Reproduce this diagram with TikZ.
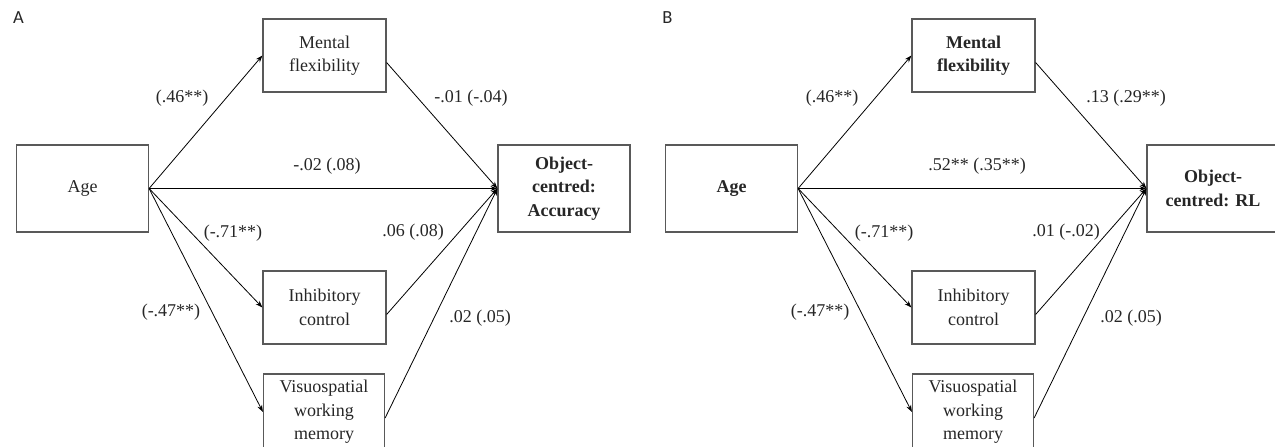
\documentclass[tikz,border=0pt]{standalone}
\usepackage{fontspec}
\setmainfont{Liberation Serif}
\newfontfamily\panelfont{Carlito}
\usetikzlibrary{arrows.meta,calc,positioning}

\begin{document}
\begin{tikzpicture}[x=1pt,y=-1pt,>={Stealth[length=7pt,width=5pt]},
    box/.style={draw=black!65,line width=1.2pt,minimum width=123pt,minimum height=73pt,
                align=center,inner sep=0pt,text=black!85,font=\fontsize{18}{23.5}\selectfont},
    bigbox/.style={box,minimum width=132pt,minimum height=87pt},
    lbl/.style={inner sep=0pt,text=black!85,font=\fontsize{18}{22}\selectfont},
    letter/.style={inner sep=0pt,text=black!85,font=\fontsize{18.5}{20}\panelfont},
    link/.style={->,line width=0.8pt,black}]

    \useasboundingbox (0,0) rectangle (1275,447);
    \clip (0,0) rectangle (1275,447);

%   panel A
    \node[letter] (letA) at (18.5,18) {A};
    \node[bigbox] (ageA) at (82.5,188.5) {Age};
    \node[box] (mfA) at (324.5,55.5) {Mental\\flexibility};
    \node[box] (icA) at (324.5,307.5) {Inhibitory\\control};
    \node[box,minimum width=121pt,minimum height=76pt] (wmA) at (324,412) {Visuospatial\\working\\memory};
    \node[bigbox] (outA) at (564,188.5) {\textbf{Object-}\\\textbf{centred:}\\\textbf{Accuracy}};

    \draw[link] (ageA.east) -- (mfA.west);
    \draw[link] (ageA.east) -- (icA.west);
    \draw[link] (ageA.east) -- (wmA.west);
    \draw[link] (ageA.east) -- (outA.west);
    \draw[link] ($(mfA.east)+(0,7)$) -- (outA.west);
    \draw[link] ($(icA.east)+(0,7)$) -- (outA.west);
    \draw[link] ($(wmA.east)+(0,6)$) -- (outA.west);

    \node[lbl] (a1) at (182,98) {(.46**)};
    \node[lbl] (a2) at (471,98) {-.01 (-.04)};
    \node[lbl] (a3) at (327,166) {-.02 (.08)};
    \node[lbl] (a4) at (233,233) {(-.71**)};
    \node[lbl] (a5) at (413,232) {.06 (.08)};
    \node[lbl] (a6) at (171,312) {(-.47**)};
    \node[lbl] (a7) at (480,318) {.02 (.05)};

%   panel B
    \begin{scope}[shift={(649,0)}]
    \node[letter] (letB) at (18.5,18) {B};
    \node[bigbox] (ageB) at (82.5,188.5) {\textbf{Age}};
    \node[box] (mfB) at (324.5,55.5) {\textbf{Mental}\\\textbf{flexibility}};
    \node[box] (icB) at (324.5,307.5) {Inhibitory\\control};
    \node[box,minimum width=121pt,minimum height=76pt] (wmB) at (324,412) {Visuospatial\\working\\memory};
    \node[bigbox] (outB) at (564,188.5) {\textbf{Object-}\\\textbf{centred: RL}};

    \draw[link] (ageB.east) -- (mfB.west);
    \draw[link] (ageB.east) -- (icB.west);
    \draw[link] (ageB.east) -- (wmB.west);
    \draw[link] (ageB.east) -- (outB.west);
    \draw[link] ($(mfB.east)+(0,7)$) -- (outB.west);
    \draw[link] ($(icB.east)+(0,7)$) -- (outB.west);
    \draw[link] ($(wmB.east)+(0,6)$) -- (outB.west);

    \node[lbl] (b1) at (183,98) {(.46**)};
    \node[lbl] (b2) at (477,98) {.13 (.29**)};
    \node[lbl] (b3) at (328,166) {.52** (.35**)};
    \node[lbl] (b4) at (235,233) {(-.71**)};
    \node[lbl] (b5) at (417,232) {.01 (-.02)};
    \node[lbl] (b6) at (171,312) {(-.47**)};
    \node[lbl] (b7) at (482,318) {.02 (.05)};
    \end{scope}

\end{tikzpicture}
\end{document}
